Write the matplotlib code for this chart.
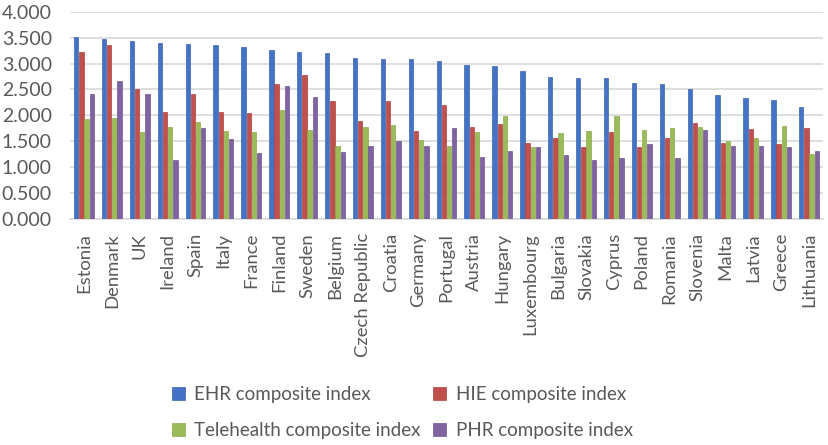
import numpy as np
from matplotlib import pyplot as plt

plt.rcParams['font.family'] = ['Lato', 'DejaVu Sans']

countries = ['Estonia', 'Denmark', 'UK', 'Ireland', 'Spain', 'Italy', 'France',
             'Finland', 'Sweden', 'Belgium', 'Czech Republic', 'Croatia', 'Germany',
             'Portugal', 'Austria', 'Hungary', 'Luxembourg', 'Bulgaria', 'Slovakia',
             'Cyprus', 'Poland', 'Romania', 'Slovenia', 'Malta', 'Latvia', 'Greece',
             'Lithuania']

ehr = [3.52, 3.47, 3.43, 3.40, 3.38, 3.35, 3.32, 3.27, 3.22, 3.20, 3.11, 3.08, 3.08,
       3.05, 2.97, 2.95, 2.86, 2.74, 2.73, 2.72, 2.63, 2.60, 2.50, 2.39, 2.33, 2.29, 2.17]
hie = [3.23, 3.35, 2.51, 2.07, 2.42, 2.07, 2.05, 2.60, 2.78, 2.28, 1.89, 2.28, 1.70,
       2.20, 1.77, 1.84, 1.46, 1.56, 1.39, 1.67, 1.39, 1.56, 1.86, 1.47, 1.74, 1.45, 1.76]
tele = [1.92, 1.95, 1.68, 1.78, 1.88, 1.70, 1.67, 2.10, 1.72, 1.41, 1.77, 1.82, 1.52,
        1.41, 1.67, 1.99, 1.38, 1.65, 1.70, 1.99, 1.72, 1.76, 1.78, 1.50, 1.56, 1.80, 1.25]
phr = [2.41, 2.66, 2.42, 1.13, 1.75, 1.54, 1.27, 2.57, 2.35, 1.29, 1.41, 1.51, 1.40,
       1.75, 1.20, 1.32, 1.38, 1.23, 1.13, 1.18, 1.45, 1.18, 1.71, 1.41, 1.41, 1.38, 1.32]

series = [ehr, hie, tele, phr]
names = ['EHR composite index', 'HIE composite index',
         'Telehealth composite index', 'PHR composite index']
colors = ['#4472C4', '#C0504D', '#9BBB59', '#8064A2']
edges = ['#3A65B0', '#B0403D', '#8AAA4A', '#705592']

fig = plt.figure(figsize=(8.29, 4.45), dpi=100)
ax = fig.add_axes([70/829, 1-219/445, 753/829, 207.3/445])

x = np.arange(len(countries))
pitch = 0.185
width = 0.155
bars = []
for i, vals in enumerate(series):
    b = ax.bar(x + (i - 1.5)*pitch, vals, width, color=colors[i],
               edgecolor=edges[i], linewidth=0.5, label=names[i], zorder=3)
    bars.append(b)

ax.set_xlim(-0.5, len(countries) - 0.5)
ax.set_ylim(0, 4)
ax.set_yticks(np.arange(0, 4.01, 0.5))
ax.set_yticklabels(['%.3f' % v for v in np.arange(0, 4.01, 0.5)])
ax.yaxis.grid(True, color='#D9D9D9', linewidth=1.2, zorder=0)
ax.set_axisbelow(True)
for s in ['top', 'right', 'left']:
    ax.spines[s].set_visible(False)
ax.spines['bottom'].set_color('#D9D9D9')
ax.spines['bottom'].set_linewidth(1.2)
ax.set_xticks(x)
ax.set_xticklabels(countries, rotation=90)
ax.tick_params(axis='y', length=0, pad=13, labelsize=14, labelcolor='#595959')
ax.tick_params(axis='x', length=0, pad=10, labelsize=13.3, labelcolor='#595959')

# row-wise order: EHR, HIE / Telehealth, PHR
order = [0, 2, 1, 3]
leg = fig.legend(handles=[bars[k] for k in order], labels=[names[k] for k in order],
                 ncol=2, frameon=False,
                 loc='upper left', bbox_to_anchor=(172/829, 1-386/445),
                 fontsize=13.5, labelcolor='#595959', handlelength=0.7,
                 handleheight=0.7, handletextpad=0.5, columnspacing=0.65,
                 labelspacing=1.0, borderpad=0, borderaxespad=0)

fig.savefig('out.png', dpi=100)
